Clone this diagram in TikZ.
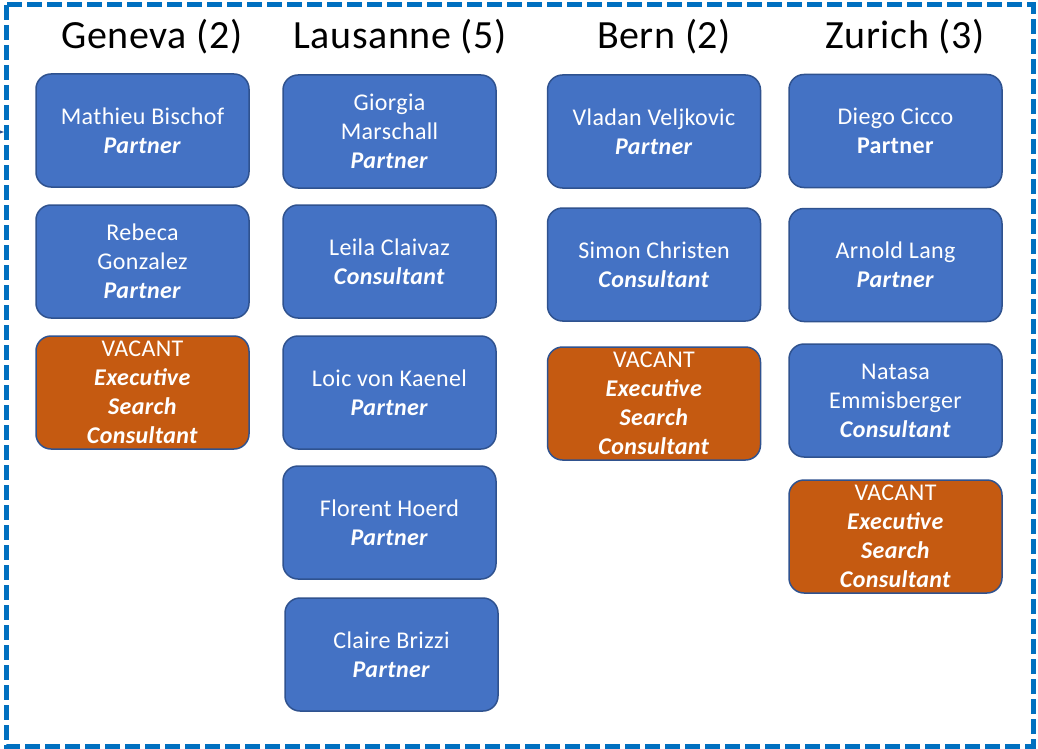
\documentclass[tikz,border=0pt]{standalone}
\usepackage{fontspec}
\setmainfont{Carlito}[LetterSpace=1.5]
\usepackage{xcolor}
\usepackage{tikz}
\usetikzlibrary{arrows.meta}
\definecolor{boxblue}{HTML}{4472C4}
\definecolor{boxline}{HTML}{2F528F}
\definecolor{vacorange}{HTML}{C55A11}
\definecolor{frameblue}{HTML}{0070C0}
\tikzset{per/.style={rectangle,rounded corners=15pt,draw=boxline,line width=1.5pt,fill=boxblue,text=white,minimum width=213pt,minimum height=113pt,align=center,inner sep=2pt,font=\fontsize{24}{29}\selectfont}}
\tikzset{vac/.style={per,fill=vacorange}}
\tikzset{city/.style={anchor=base,font=\fontsize{40}{48}\selectfont}}
\newcommand{\role}[1]{\textbf{\textit{#1}}}

\begin{document}
\begin{tikzpicture}[x=1pt,y=-1pt,>=Stealth]
        \useasboundingbox (0,0) rectangle (1038,749);
        \draw[frameblue,line width=5pt,dash pattern=on 15pt off 5pt] (6,5) rectangle (1033,746);
        \coordinate (ina) at (-12,132);
        \coordinate (inb) at (4,132);
        \draw[->,boxline,line width=1.5pt] (ina) to (inb);

        \node[city] (tgen) at (152,49) {Geneva (2)};
        \node[city] (tlau) at (400,49) {Lausanne (5)};
        \node[city] (tber) at (664,49) {Bern (2)};
        \node[city] (tzur) at (905,49) {Zurich (3)};

        \node[per] (gen1) at (142.5,130.5) {Mathieu Bischof\\\role{Partner}};
        \node[per] (gen2) at (142.5,261.5) {Rebeca\\Gonzalez\\\role{Partner}};
        \node[vac] (gen3) at (142.5,392.5) {VACANT\\\role{Executive}\\\role{Search}\\\role{Consultant}};

        \node[per] (lau1) at (389.5,131.5) {Giorgia\\Marschall\\\role{Partner}};
        \node[per] (lau2) at (389.5,261.5) {Leila Claivaz\\\role{Consultant}};
        \node[per] (lau3) at (389.5,392.5) {Loic von Kaenel\\\role{Partner}};
        \node[per] (lau4) at (389.5,522.5) {Florent Hoerd\\\role{Partner}};
        \node[per] (lau5) at (391.5,654.5) {Claire Brizzi\\\role{Partner}};

        \node[per] (ber1) at (654,131.5) {Vladan Veljkovic\\\role{Partner}};
        \node[per] (ber2) at (654,264.5) {Simon Christen\\\role{Consultant}};
        \node[vac] (ber3) at (654,403.5) {VACANT\\\role{Executive}\\\role{Search}\\\role{Consultant}};

        \node[per] (zur1) at (895.5,131) {Diego Cicco\\\textbf{Partner}};
        \node[per] (zur2) at (895.5,265) {Arnold Lang\\\role{Partner}};
        \node[per] (zur3) at (895.5,400.5) {Natasa\\Emmisberger\\\role{Consultant}};
        \node[vac] (zur4) at (895.5,536.5) {VACANT\\\role{Executive}\\\role{Search}\\\role{Consultant}};
    \end{tikzpicture}
\end{document}
